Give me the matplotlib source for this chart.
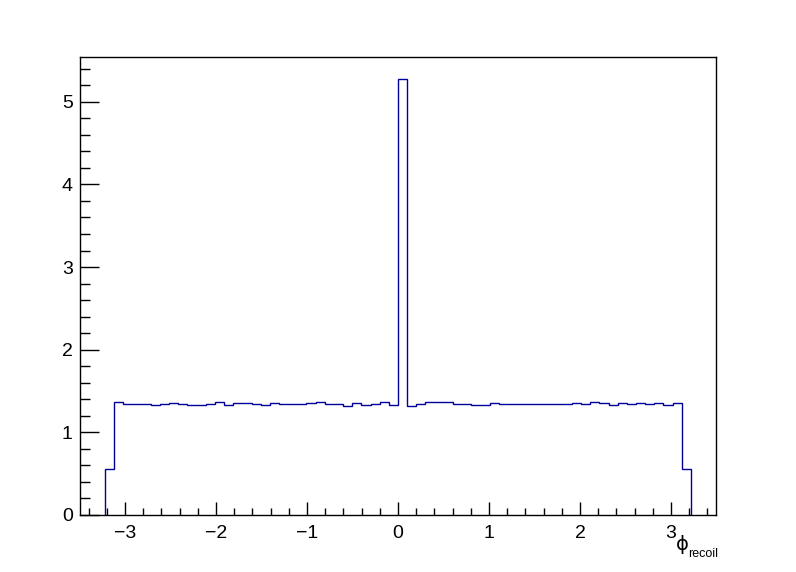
import numpy as np
import matplotlib
matplotlib.use("Agg")
import matplotlib.pyplot as plt
from matplotlib.ticker import MultipleLocator

plt.rcParams['font.family'] = ['Liberation Sans', 'DejaVu Sans']

# histogram: 64 bins between phi_lo and phi_hi
phi_lo, phi_hi = -3.22, 3.22
counts = [
    0.56, 1.36, 1.341, 1.337, 1.337, 1.325, 1.337, 1.35,
    1.337, 1.325, 1.325, 1.337, 1.36, 1.325, 1.35, 1.35,
    1.337, 1.325, 1.35, 1.337, 1.337, 1.337, 1.35, 1.36,
    1.337, 1.337, 1.321, 1.35, 1.33, 1.337, 1.36, 1.325,
    5.277, 1.321, 1.337, 1.36, 1.36, 1.36, 1.337, 1.337,
    1.325, 1.325, 1.35, 1.337, 1.337, 1.337, 1.337, 1.337,
    1.337, 1.337, 1.337, 1.35, 1.337, 1.36, 1.35, 1.325,
    1.35, 1.337, 1.35, 1.337, 1.35, 1.325, 1.35, 0.552,
]
x_title = "\u03d5"
x_title_sub = "recoil"

edges = np.linspace(phi_lo, phi_hi, len(counts) + 1)

fig = plt.figure(figsize=(7.96, 5.72), dpi=100)
ax = fig.add_axes([0.1, 0.1, 0.8, 0.8])

ax.stairs(counts, edges, baseline=0, color='#000099', linewidth=1)

ax.set_xlim(-3.5, 3.5)
ax.set_ylim(0, max(counts) * 1.05)

ax.xaxis.set_major_locator(MultipleLocator(1))
ax.xaxis.set_minor_locator(MultipleLocator(0.2))
ax.yaxis.set_major_locator(MultipleLocator(1))
ax.yaxis.set_minor_locator(MultipleLocator(0.2))

ax.tick_params(axis='x', which='both', direction='in', top=False, labelsize=14, pad=7)
ax.tick_params(axis='x', which='major', length=9.5, width=1)
ax.tick_params(axis='x', which='minor', length=4.8, width=1)
ax.tick_params(axis='y', which='both', direction='in', right=False, labelsize=14, pad=5)
ax.tick_params(axis='y', which='major', length=14, width=1)
ax.tick_params(axis='y', which='minor', length=7.5, width=1)

for s in ax.spines.values():
    s.set_linewidth(1)
    s.set_color('black')

# axis title at the right end, ROOT style
fig.text(682 / 796, 1 - 545 / 572, x_title, ha='center', va='center',
         fontsize=14, family=['DejaVu Sans'])
fig.text(688 / 796, 1 - 554 / 572, x_title_sub, ha='left', va='center', fontsize=9)

fig.savefig('out.png', dpi=100, facecolor='white')
